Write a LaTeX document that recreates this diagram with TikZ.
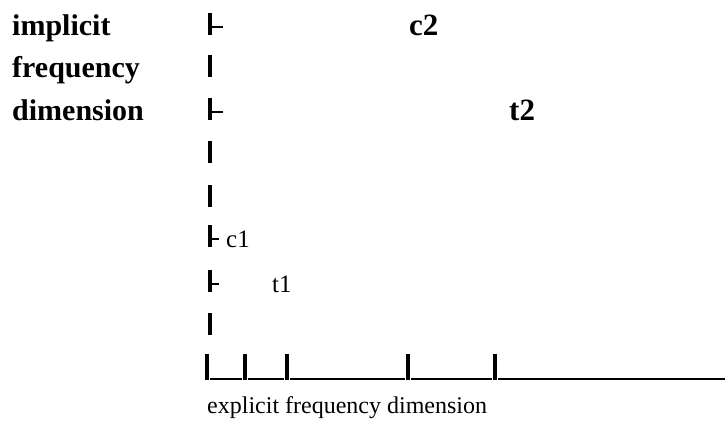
\documentclass[tikz,border=0pt]{standalone}
\usepackage{fontspec}
\setmainfont{Liberation Serif}
\usepackage{tikz}
\usetikzlibrary{positioning}
\definecolor{ink}{RGB}{0,0,0}

\begin{document}
\begin{tikzpicture}[x=1pt,y=-1pt,
  axislabel/.style={anchor=base west,inner sep=0pt,text=ink,
    font=\fontsize{30}{30}\selectfont\bfseries},
  pointlabel/.style={anchor=base west,inner sep=0pt,text=ink,
    font=\fontsize{25}{25}\selectfont},
  bigpoint/.style={anchor=base west,inner sep=0pt,text=ink,
    font=\fontsize{31}{31}\selectfont\bfseries},
  bar/.style={draw=ink,line width=3.2pt},
  rule/.style={draw=ink,line width=2.6pt}]
\useasboundingbox (0,0) rectangle (725,426);

% label of the vertical axis
\node[axislabel] (impl) at (12,35) {implicit};
\node[axislabel] (freq) at (12,77) {frequency};
\node[axislabel] (dims) at (12,120) {dimension};

% vertical axis, one bar per row, with ticks
\draw[bar] (210,13) -- (210,35);   \draw[rule] (211,27) -- (223,27);
\draw[bar] (210,55) -- (210,77);
\draw[bar] (210,98) -- (210,120);  \draw[rule] (211,112) -- (223,112);
\draw[bar] (210,141) -- (210,163);
\draw[bar] (210,185) -- (210,207);
\draw[bar] (210,225) -- (210,247); \draw[rule] (211,239) -- (219,239);
\draw[bar] (210,270) -- (210,292); \draw[rule] (211,284) -- (219,284);
\draw[bar] (210,313) -- (210,335);

% horizontal axis
\draw[bar] (207,354) -- (207,380);
\draw[bar] (245,354) -- (245,380);
\draw[bar] (287,354) -- (287,380);
\draw[bar] (408,354) -- (408,380);
\draw[bar] (495,354) -- (495,380);
\draw[rule] (210,379) -- (242,379);
\draw[rule] (248,379) -- (284,379);
\draw[rule] (290,379) -- (405,379);
\draw[rule] (411,379) -- (492,379);
\draw[rule] (498,379) -- (725,379);

% points
\node[pointlabel] (cone) at (226,247) {c1};
\node[pointlabel] (tone) at (272,292) {t1};
\node[bigpoint] (ctwo) at (409,35) {c2};
\node[bigpoint] (ttwo) at (509,120) {t2};

\node[anchor=base west,inner sep=0pt,text=ink,font=\fontsize{24}{24}\selectfont]
  (xlabel) at (207,413) {explicit frequency dimension};
\end{tikzpicture}
\end{document}
